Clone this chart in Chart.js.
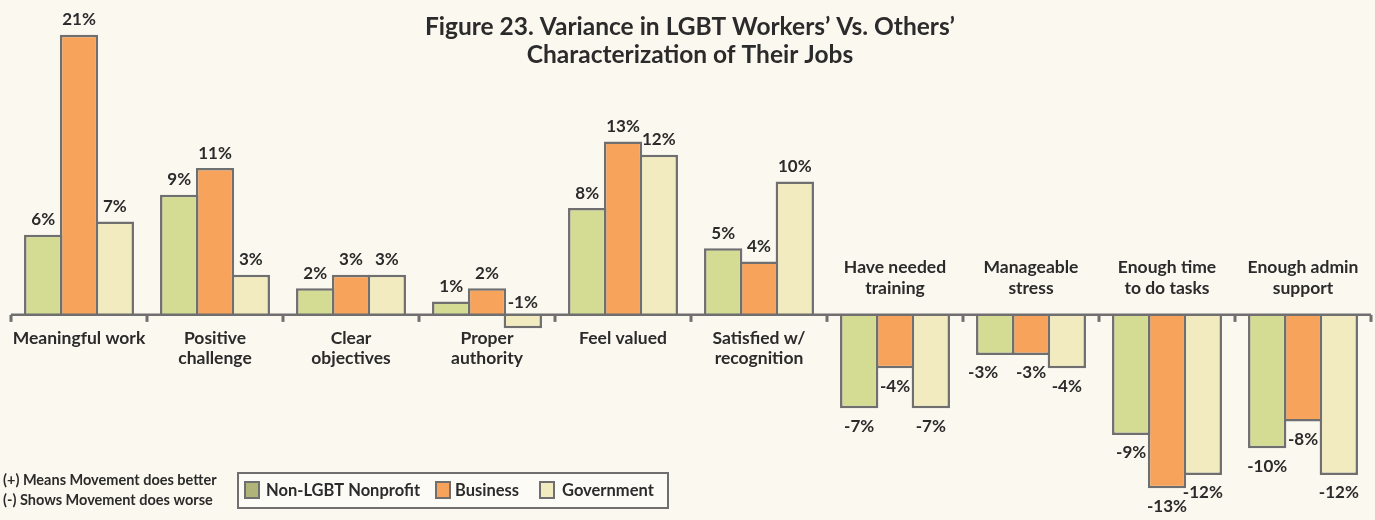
<!DOCTYPE html>
<html>
<head>
<meta charset="utf-8">
<script src="https://cdn.jsdelivr.net/npm/chart.js@4.4.1/dist/chart.umd.min.js"></script>
<style>
  html, body { margin: 0; padding: 0; background: #fbf8f0; }
  canvas { display: block; }
</style>
</head>
<body>
<canvas id="chart" width="1375" height="520"></canvas>
<script>
// Job characteristics compared (multi-line labels are arrays)
const categories = [
  'Meaningful work',
  ['Positive', 'challenge'],
  ['Clear', 'objectives'],
  ['Proper', 'authority'],
  'Feel valued',
  ['Satisfied w/', 'recognition'],
  ['Have needed', 'training'],
  ['Manageable', 'stress'],
  ['Enough time', 'to do tasks'],
  ['Enough admin', 'support']
];

const seriesNames = ['Non-LGBT Nonprofit', 'Business', 'Government'];

// Percentage-point variance, LGBT movement workers vs. each sector
const nonLgbtNonprofit = [6, 9, 2, 1, 8, 5, -7, -3, -9, -10];
const business         = [21, 11, 3, 2, 13, 4, -4, -3, -13, -8];
const government       = [7, 3, 3, -1, 12, 10, -7, -4, -12, -12];

const titleLines = [
  'Figure 23. Variance in LGBT Workers\u2019 Vs. Others\u2019',
  'Characterization of Their Jobs'
];
const notes = [
  '(+) Means Movement does better',
  '(-) Shows Movement does worse'
];

const FONT = 'Lato, "Open Sans", "DejaVu Sans", sans-serif';
const EDGE = '#6f6f6f';
const INK = '#2b2b2b';
const barColors = ['#d4db93', '#f7a35c', '#f1ebbf'];
const swatchColors = ['#b0b478', '#f7a35c', '#f1ebbf'];

const decor = {
  id: 'decor',
  beforeDraw(chart) {
    const ctx = chart.ctx;
    ctx.save();
    ctx.fillStyle = '#fbf8f0';
    ctx.fillRect(0, 0, chart.width, chart.height);
    ctx.restore();
  },
  afterDatasetsDraw(chart, args, opts) {
    const ctx = chart.ctx;
    const xs = chart.scales.x, ys = chart.scales.y;
    const y0 = ys.getPixelForValue(0);
    const n = chart.data.labels.length;
    const slot = (xs.right - xs.left) / n;

    ctx.save();
    // zero line with boundary ticks
    ctx.strokeStyle = EDGE;
    ctx.lineWidth = 2.5;
    ctx.beginPath();
    ctx.moveTo(xs.left, y0);
    ctx.lineTo(xs.right, y0);
    ctx.stroke();
    ctx.lineWidth = 3;
    for (let i = 0; i <= n; i++) {
      const tx = xs.left + i * slot;
      ctx.beginPath();
      ctx.moveTo(tx, y0);
      ctx.lineTo(tx, y0 + 7);
      ctx.stroke();
    }

    // category labels: below the line, or above it when the group is all negative
    ctx.fillStyle = INK;
    ctx.textAlign = 'center';
    ctx.textBaseline = 'middle';
    ctx.font = `700 17.5px ${FONT}`;
    chart.data.labels.forEach((lab, i) => {
      const lines = Array.isArray(lab) ? lab : [lab];
      const cx = xs.getPixelForValue(i);
      const vals = chart.data.datasets.map(d => d.data[i]);
      const allNeg = Math.max(...vals) <= 0;
      lines.forEach((ln, j) => {
        const ly = allNeg ? y0 - 27 - (lines.length - 1 - j) * 21 : y0 + 23 + j * 20;
        ctx.fillText(ln, cx, ly);
      });
    });

    // value labels at the end of each bar
    ctx.font = `700 17px ${FONT}`;
    chart.data.datasets.forEach((ds, di) => {
      const meta = chart.getDatasetMeta(di);
      meta.data.forEach((bar, i) => {
        const v = ds.data[i];
        const nudge = opts.nudges[di + ':' + i] || [0, 0];
        const ly = v >= 0 ? bar.y - 15 : bar.y + 18;
        ctx.fillText(v + '%', bar.x + nudge[0], ly + nudge[1]);
      });
    });
    ctx.restore();
  },
  afterDraw(chart) {
    const ctx = chart.ctx;
    ctx.save();
    ctx.fillStyle = INK;
    ctx.textBaseline = 'middle';

    // title
    ctx.textAlign = 'center';
    ctx.font = `700 24.5px ${FONT}`;
    ctx.fillText(titleLines[0], 690, 27);
    ctx.fillText(titleLines[1], 690, 55);

    // notes
    ctx.textAlign = 'left';
    ctx.font = `700 14.5px ${FONT}`;
    ctx.fillText(notes[0], 3, 480);
    ctx.fillText(notes[1], 3, 500);

    // legend box
    ctx.strokeStyle = EDGE;
    ctx.lineWidth = 2;
    ctx.fillStyle = '#fdfbf6';
    ctx.fillRect(238, 473, 430, 35);
    ctx.strokeRect(238, 473, 430, 35);
    const swX = [244, 435, 539];
    const txX = [266, 455, 562];
    ctx.font = `700 16.5px ${FONT}`;
    chart.data.datasets.forEach((ds, i) => {
      ctx.fillStyle = swatchColors[i];
      ctx.fillRect(swX[i] + 1, 482, 14, 16);
      ctx.strokeRect(swX[i] + 1, 482, 14, 16);
      ctx.fillStyle = INK;
      ctx.fillText(ds.label, txX[i], 491);
    });
    ctx.restore();
  }
};

const seriesValues = [nonLgbtNonprofit, business, government];

new Chart(document.getElementById('chart'), {
  type: 'bar',
  data: {
    labels: categories,
    datasets: seriesNames.map((name, i) => ({
      label: name,
      data: seriesValues[i],
      backgroundColor: barColors[i],
      borderColor: EDGE,
      borderWidth: 2.5,
      borderSkipped: 'start',
      categoryPercentage: 0.79,
      barPercentage: 1.07
    }))
  },
  options: {
    responsive: false,
    animation: false,
    layout: { padding: { left: 11, right: 4, top: 28, bottom: 5 } },
    plugins: {
      legend: { display: false },
      tooltip: { enabled: false },
      title: { display: false },
      decor: { nudges: { '2:3': [0, -44], '0:7': [-12, 0] } }
    },
    scales: {
      x: { display: false },
      y: { display: false, min: -15, max: 21.5 }
    }
  },
  plugins: [decor]
});
</script>
</body>
</html>
